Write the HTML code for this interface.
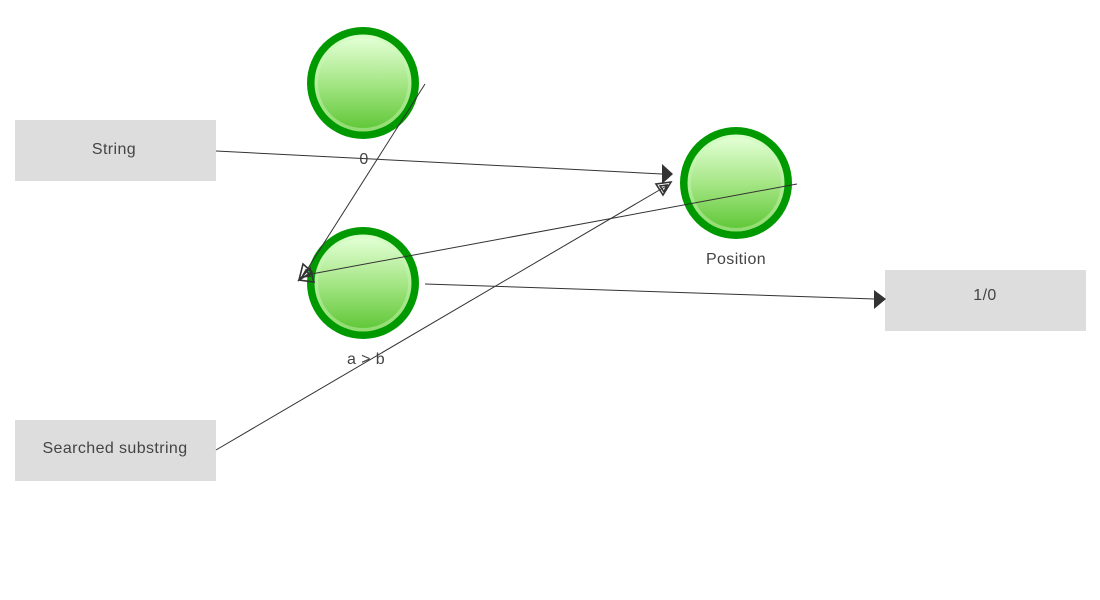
<!DOCTYPE html>
<html>
<head>
<meta charset="utf-8">
<style>
html,body{margin:0;padding:0;background:#fff;}
body{width:1100px;height:600px;overflow:hidden;}
svg{display:block;}
text{font-family:"Liberation Sans",sans-serif;fill:#444;font-size:16px;letter-spacing:0.4px;}
</style>
</head>
<body>
<svg width="1100" height="600" viewBox="0 0 1100 600" xmlns="http://www.w3.org/2000/svg">
<defs>
<linearGradient id="g" x1="0" y1="0" x2="0" y2="1">
<stop offset="0" stop-color="#e2ffd4"/>
<stop offset="0.5" stop-color="#a6e686"/>
<stop offset="1" stop-color="#62c83a"/>
</linearGradient>
<linearGradient id="g2" x1="0" y1="0" x2="0" y2="1">
<stop offset="0" stop-color="#d8ffc8"/>
<stop offset="1" stop-color="#90dc70"/>
</linearGradient>
</defs>

<!-- boxes -->
<rect x="15" y="120" width="201" height="61" fill="#dddddd"/>
<rect x="15" y="420" width="201" height="61" fill="#dddddd"/>
<rect x="885" y="270" width="201" height="61" fill="#dddddd"/>
<text x="114" y="154" text-anchor="middle">String</text>
<text x="115" y="453" text-anchor="middle">Searched substring</text>
<text x="985" y="300" text-anchor="middle">1/0</text>

<!-- circles -->
<g>
<circle cx="363" cy="83" r="56" fill="#009900"/>
<circle cx="363" cy="83" r="48.5" fill="url(#g2)"/>
<circle cx="363" cy="83" r="45" fill="url(#g)"/>
</g>
<g>
<circle cx="363" cy="283" r="56" fill="#009900"/>
<circle cx="363" cy="283" r="48.5" fill="url(#g2)"/>
<circle cx="363" cy="283" r="45" fill="url(#g)"/>
</g>
<g>
<circle cx="736" cy="183" r="56" fill="#009900"/>
<circle cx="736" cy="183" r="48.5" fill="url(#g2)"/>
<circle cx="736" cy="183" r="45" fill="url(#g)"/>
</g>

<text x="364" y="164" text-anchor="middle">0</text>
<text x="366" y="364" text-anchor="middle">a &gt; b</text>
<text x="736" y="264" text-anchor="middle">Position</text>

<!-- connectors -->
<g stroke="#333" stroke-width="1" fill="none">
<line x1="216" y1="151" x2="662" y2="174"/>
<line x1="425" y1="84" x2="303" y2="276"/>
<line x1="797" y1="184" x2="306" y2="275"/>
<line x1="216" y1="450" x2="668" y2="185"/>
<line x1="425" y1="284" x2="875" y2="299"/>
</g>

<!-- filled arrowheads -->
<polygon points="673,174 662,164 662,184" fill="#333"/>
<polygon points="886,299 874,290 874,309" fill="#333"/>

<!-- hollow arrowheads -->
<g stroke="#333" stroke-width="1.6" fill="none">
<polygon points="671,182 656,184 663,195"/>
<polygon points="667,185 660,186 664,192"/>
<polygon points="299,280 303,264 312,272"/>
<polygon points="299,280 310,268 314,282"/>
<polygon points="302,277 306,270 310,276"/>
</g>
</svg>
</body>
</html>
